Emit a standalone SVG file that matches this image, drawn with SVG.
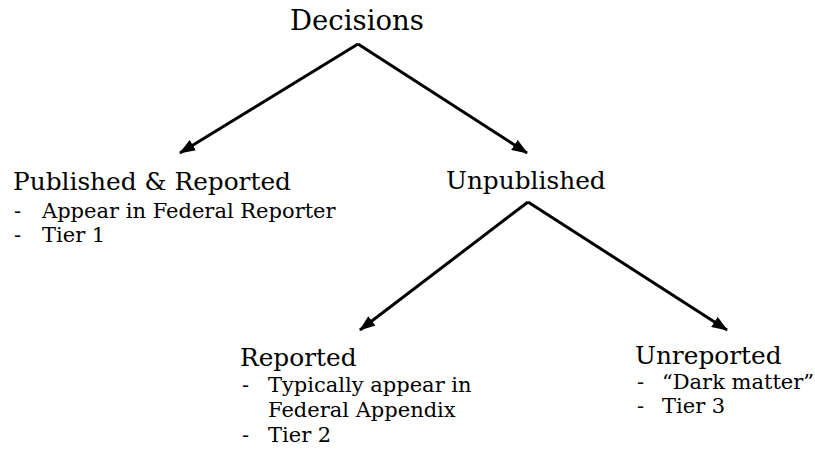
<svg xmlns="http://www.w3.org/2000/svg" width="815" height="452" viewBox="0 0 815 452">
<style>
text{font-family:"DejaVu Serif","Liberation Serif",serif;fill:#000}
.top{font-size:27.5px}
.h{font-size:24.8px}
.b{font-size:21px}
.c{stroke:#000;stroke-width:3;fill:none;marker-end:url(#ah)}
</style>
<defs>
<marker id="ah" viewBox="0 0 16 12" refX="15" refY="6" markerWidth="16" markerHeight="12" markerUnits="userSpaceOnUse" orient="auto">
<path d="M0,0 L16,6 L0,12 Z" fill="#000"/>
</marker>
</defs>
<rect width="815" height="452" fill="#fff"/>
<g id="connectors">
<line class="c" x1="358" y1="44" x2="180" y2="153"/>
<line class="c" x1="358" y1="44" x2="527" y2="153"/>
<line class="c" x1="528" y1="202" x2="360" y2="330"/>
<line class="c" x1="528" y1="202" x2="727" y2="330"/>
</g>
<g id="decisions"><text class="top" x="290" y="30">Decisions</text></g>
<g id="published">
<text class="h" x="13" y="190">Published &amp; Reported</text>
<text class="b" x="14" y="218">-</text><text class="b" x="42" y="218">Appear in Federal Reporter</text>
<text class="b" x="14" y="242">-</text><text class="b" x="42" y="242">Tier 1</text>
</g>
<g id="unpublished"><text class="h" x="446" y="189">Unpublished</text></g>
<g id="reported">
<text class="h" x="240" y="366">Reported</text>
<text class="b" x="242" y="392">-</text><text class="b" x="268" y="392">Typically appear in</text>
<text class="b" x="268" y="417">Federal Appendix</text>
<text class="b" x="242" y="442">-</text><text class="b" x="268" y="442">Tier 2</text>
</g>
<g id="unreported">
<text class="h" x="635" y="364">Unreported</text>
<text class="b" x="637" y="389">-</text><text class="b" x="662" y="389">“Dark matter”</text>
<text class="b" x="637" y="413">-</text><text class="b" x="662" y="413">Tier 3</text>
</g>
</svg>
